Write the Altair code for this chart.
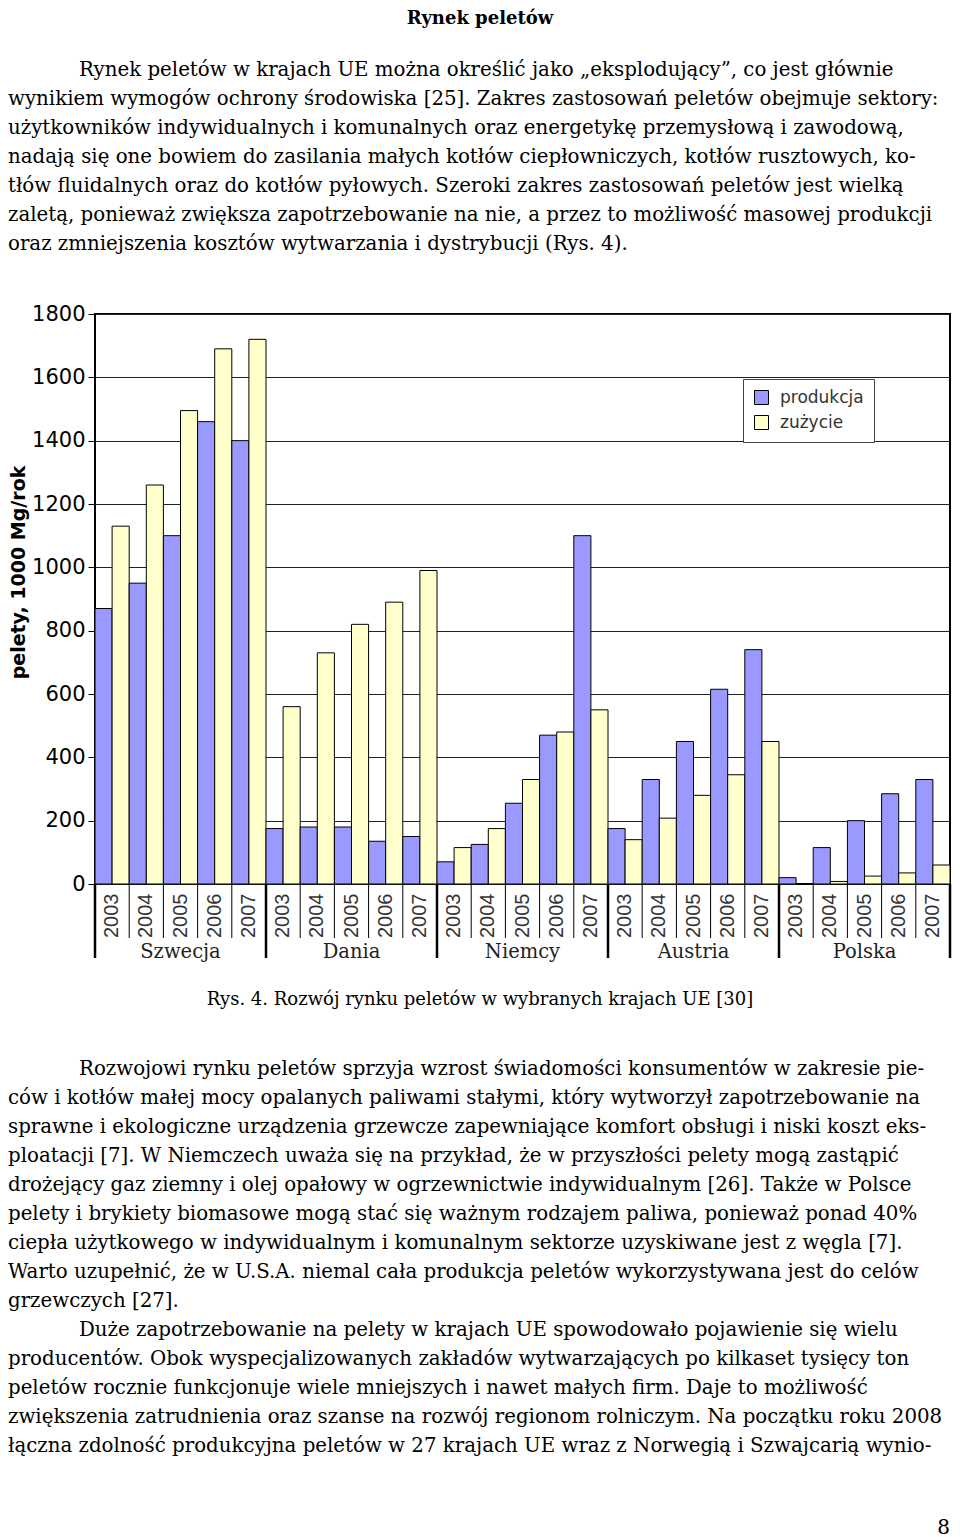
import altair as alt
import pandas as pd

# ---------------- data ----------------
countries = ["Szwecja", "Dania", "Niemcy", "Austria", "Polska"]
years = ["2003", "2004", "2005", "2006", "2007"]
series_names = ["produkcja", "zużycie"]

# values in 1000 Mg/rok, per country 2003..2007
produkcja = [870, 950, 1100, 1460, 1400,
             175, 180, 180, 135, 150,
             70, 125, 255, 470, 1100,
             175, 330, 450, 615, 740,
             20, 115, 200, 285, 330]
zuzycie = [1130, 1260, 1495, 1690, 1720,
           560, 730, 820, 890, 990,
           115, 175, 330, 480, 550,
           140, 208, 280, 345, 450,
           0, 8, 25, 35, 60]

y_ticks = [0, 200, 400, 600, 800, 1000, 1200, 1400, 1600, 1800]
y_title = "pelety, 1000 Mg/rok"

heading = ["Rynek peletów"]
para1 = [
    "Rynek peletów w krajach UE można określić jako „eksplodujący”, co jest głównie",
    "wynikiem wymogów ochrony środowiska [25]. Zakres zastosowań peletów obejmuje sektory:",
    "użytkowników indywidualnych i komunalnych oraz energetykę przemysłową i zawodową,",
    "nadają się one bowiem do zasilania małych kotłów ciepłowniczych, kotłów rusztowych, ko-",
    "tłów fluidalnych oraz do kotłów pyłowych. Szeroki zakres zastosowań peletów jest wielką",
    "zaletą, ponieważ zwiększa zapotrzebowanie na nie, a przez to możliwość masowej produkcji",
    "oraz zmniejszenia kosztów wytwarzania i dystrybucji (Rys. 4).",
]
caption = ["Rys. 4. Rozwój rynku peletów w wybranych krajach UE [30]"]
para2 = [
    "Rozwojowi rynku peletów sprzyja wzrost świadomości konsumentów w zakresie pie-",
    "ców i kotłów małej mocy opalanych paliwami stałymi, który wytworzył zapotrzebowanie na",
    "sprawne i ekologiczne urządzenia grzewcze zapewniające komfort obsługi i niski koszt eks-",
    "ploatacji [7]. W Niemczech uważa się na przykład, że w przyszłości pelety mogą zastąpić",
    "drożejący gaz ziemny i olej opałowy w ogrzewnictwie indywidualnym [26]. Także w Polsce",
    "pelety i brykiety biomasowe mogą stać się ważnym rodzajem paliwa, ponieważ ponad 40%",
    "ciepła użytkowego w indywidualnym i komunalnym sektorze uzyskiwane jest z węgla [7].",
    "Warto uzupełnić, że w U.S.A. niemal cała produkcja peletów wykorzystywana jest do celów",
    "grzewczych [27].",
]
para3 = [
    "Duże zapotrzebowanie na pelety w krajach UE spowodowało pojawienie się wielu",
    "producentów. Obok wyspecjalizowanych zakładów wytwarzających po kilkaset tysięcy ton",
    "peletów rocznie funkcjonuje wiele mniejszych i nawet małych firm. Daje to możliwość",
    "zwiększenia zatrudnienia oraz szanse na rozwój regionom rolniczym.  Na początku roku 2008",
    "łączna zdolność produkcyjna peletów w 27 krajach UE wraz z Norwegią i Szwajcarią wynio-",
]
page_number = ["8"]

# ---------------- tables ----------------
keys = [f"{y} {c}" for c in countries for y in years]
rows = []
i = 0
for c in countries:
    for y in years:
        rows.append({"country": c, "year": y, "key": f"{y} {c}", "series": series_names[0], "value": produkcja[i]})
        rows.append({"country": c, "year": y, "key": f"{y} {c}", "series": series_names[1], "value": zuzycie[i]})
        i += 1
df = pd.DataFrame(rows)

sep_start = pd.DataFrame({"key": [f"{years[0]} {c}" for c in countries]})
sep_end = pd.DataFrame({"key": [f"{years[-1]} {countries[-1]}"]})
thin = pd.DataFrame({"key": [f"{y} {c}" for c in countries for y in years[1:]]})
clabels = pd.DataFrame({"country": countries, "key": [f"{years[2]} {c}" for c in countries]})

SERIF = "DejaVu Serif"
SANS = "DejaVu Sans"
BODY = 19.8

W, H = 855, 570

# ---------------- bar chart ----------------
xscale = alt.Scale(domain=keys, paddingInner=0, paddingOuter=0)
bars = alt.Chart(df).mark_bar(stroke="black", strokeWidth=1).encode(
    x=alt.X("key:N", sort=keys, scale=xscale,
            axis=alt.Axis(title=None, labelExpr="substring(datum.label, 0, 4)", labelAngle=270,
                          labelAlign="right", labelBaseline="middle", labelPadding=9,
                          ticks=False, domain=False, grid=False, labelFont="Liberation Sans",
                          labelFontSize=20, labelColor="#333")),
    xOffset=alt.XOffset("series:N", sort=series_names,
                        scale=alt.Scale(domain=series_names, paddingInner=0, paddingOuter=0)),
    y=alt.Y("value:Q", scale=alt.Scale(domain=[0, 1800], nice=False),
            axis=alt.Axis(values=y_ticks, title=y_title, titleFont=SANS, titleFontSize=19,
                          titleFontWeight="bold", titleColor="black", titlePadding=3, titleY=258,
                          labelFont=SANS, labelFontSize=21, labelColor="black", labelPadding=3,
                          tickSize=7, tickColor="black", gridColor="#222", gridWidth=1,
                          domain=False, format="d")),
    color=alt.Color("series:N", sort=series_names,
                    scale=alt.Scale(domain=series_names, range=["#9999FF", "#FFFFCC"]),
                    legend=alt.Legend(title=None, orient="none", legendX=648, legendY=65,
                                      fillColor="white", strokeColor="#444", padding=10,
                                      symbolType="square", symbolSize=196,
                                      symbolStrokeColor="black", symbolStrokeWidth=1,
                                      labelFont=SANS, labelFontSize=17, labelColor="#333",
                                      rowPadding=6, labelOffset=10)),
)
seps = alt.Chart(sep_start).mark_rule(color="black", strokeWidth=2.5).encode(
    x=alt.X("key:N", sort=keys, scale=xscale, bandPosition=0), y=alt.value(H), y2=alt.value(H + 74))
sepe = alt.Chart(sep_end).mark_rule(color="black", strokeWidth=2.5).encode(
    x=alt.X("key:N", sort=keys, scale=xscale, bandPosition=1), y=alt.value(H), y2=alt.value(H + 74))
thins = alt.Chart(thin).mark_rule(color="black", strokeWidth=1).encode(
    x=alt.X("key:N", sort=keys, scale=xscale, bandPosition=0), y=alt.value(H), y2=alt.value(H + 54))
ctext = alt.Chart(clabels).mark_text(font=SERIF, fontSize=19.5, baseline="alphabetic", color="#222").encode(
    x=alt.X("key:N", sort=keys, scale=xscale, bandPosition=0.5), y=alt.value(H + 74), text="country:N")

# ---------------- page text (around the plot) ----------------
LEFT = -87
p1_df = pd.DataFrame({"row": list(range(len(para1))), "t": para1})
yscale1 = alt.Scale(domain=[0, 6], range=[-238, -64])
t_head = alt.Chart(pd.DataFrame({"t": heading})).mark_text(
    font=SERIF, fontSize=18, fontWeight="bold", align="center", baseline="alphabetic", color="black"
).encode(text="t:N", x=alt.value(385), y=alt.value(-290))
t_p1a = alt.Chart(p1_df.iloc[:1]).mark_text(
    font=SERIF, fontSize=BODY, align="left", baseline="alphabetic", color="black"
).encode(text="t:N", x=alt.value(-16), y=alt.Y("row:Q", scale=yscale1, axis=None))
t_p1b = alt.Chart(p1_df.iloc[1:]).mark_text(
    font=SERIF, fontSize=BODY, align="left", baseline="alphabetic", color="black"
).encode(text="t:N", x=alt.value(LEFT), y=alt.Y("row:Q", scale=yscale1, axis=None))

p23 = para2 + para3
indent_rows = [0, len(para2)]
p23_df = pd.DataFrame({"row": list(range(len(p23))), "t": p23})
yscale2 = alt.Scale(domain=[0, 13], range=[761, 1138])
b_cap = alt.Chart(pd.DataFrame({"t": caption})).mark_text(
    font=SERIF, fontSize=18, align="center", baseline="alphabetic", color="black"
).encode(text="t:N", x=alt.value(385), y=alt.value(691))
b_a = alt.Chart(p23_df[p23_df["row"].isin(indent_rows)]).mark_text(
    font=SERIF, fontSize=BODY, align="left", baseline="alphabetic", color="black"
).encode(text="t:N", x=alt.value(-16), y=alt.Y("row:Q", scale=yscale2, axis=None))
b_b = alt.Chart(p23_df[~p23_df["row"].isin(indent_rows)]).mark_text(
    font=SERIF, fontSize=BODY, align="left", baseline="alphabetic", color="black"
).encode(text="t:N", x=alt.value(LEFT), y=alt.Y("row:Q", scale=yscale2, axis=None))
b_pn = alt.Chart(pd.DataFrame({"t": page_number})).mark_text(
    font=SERIF, fontSize=20, align="right", baseline="alphabetic", color="black"
).encode(text="t:N", x=alt.value(W), y=alt.value(1220))

chart = alt.layer(
    bars, seps, sepe, thins, ctext,
    t_head, t_p1a, t_p1b, b_cap, b_a, b_b, b_pn,
).resolve_scale(y="independent").properties(
    width=W, height=H, padding={"top": 2, "left": 0, "right": 0, "bottom": 0}
).configure_view(stroke="black", strokeWidth=2)

chart.save("out.html", embed_options={"renderer": "svg", "actions": False})
